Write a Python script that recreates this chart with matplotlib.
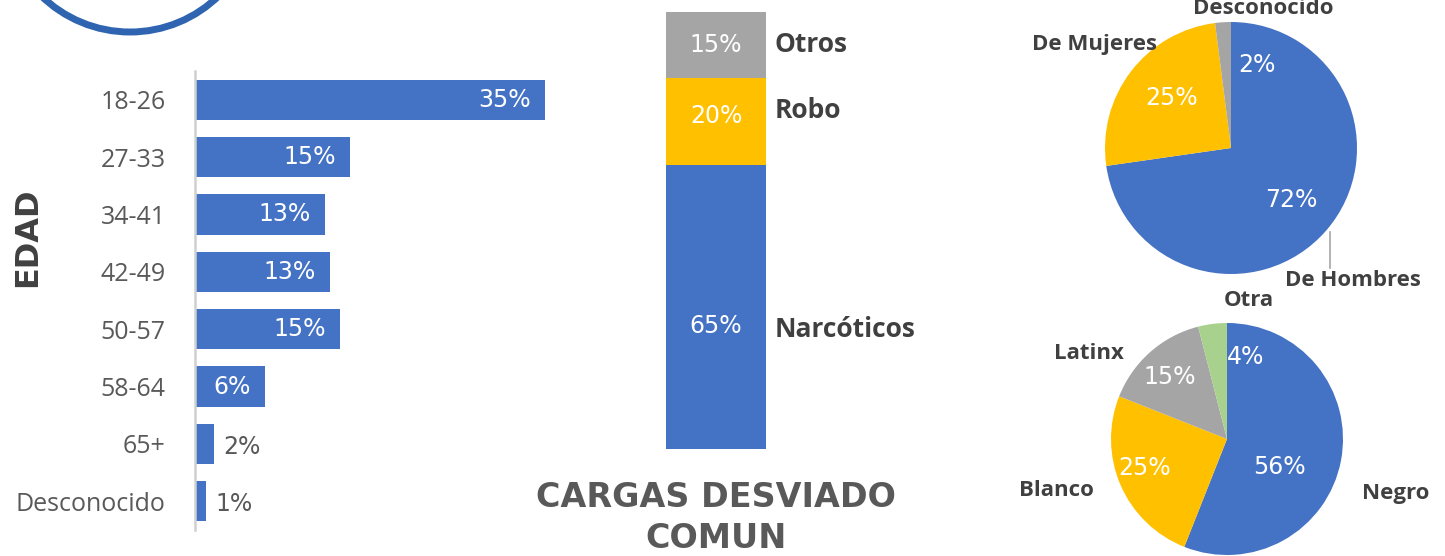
import matplotlib
matplotlib.use("Agg")
import matplotlib.pyplot as plt
from matplotlib.patches import Circle

W, H = 1445, 556

# edad
age_groups = ["18-26", "27-33", "34-41", "42-49", "50-57", "58-64", "65+", "Desconocido"]
age_values = [35, 15.5, 13, 13.5, 14.5, 7, 1.9, 1.1]
age_labels = ["35%", "15%", "13%", "13%", "15%", "6%", "2%", "1%"]

# cargas
charge_types = ["Narcóticos", "Robo", "Otros"]
charge_values = [65, 20, 15]

# genero
gender_names = ["De Hombres", "De Mujeres", "Desconocido"]
gender_values = [72, 25, 2]

# raza
race_names = ["Negro", "Blanco", "Latinx", "Otra"]
race_values = [56, 25, 15, 4]

BLUE = "#4472C4"
YELLOW = "#FFC000"
GRAY = "#A5A5A5"
GREEN = "#A9D18E"
DARK = "#404040"
MID = "#595959"
PCT_FONT = "DejaVu Sans"

plt.rcParams['font.family'] = ['Open Sans', 'DejaVu Sans']

fig = plt.figure(figsize=(W / 100, H / 100), dpi=100)


def px_axes(x0, y0, x1, y1):
    return fig.add_axes([x0 / W, 1 - y1 / H, (x1 - x0) / W, (y1 - y0) / H])


# decorative ring in the corner
deco = px_axes(0, 0, W, H)
deco.set_xlim(0, W)
deco.set_ylim(H, 0)
deco.axis("off")
deco.add_patch(Circle((130, -95), 127, fill=False, ec="#2E64B0", lw=5))

# --- bar chart by age ---
ax = px_axes(195, 71, 595, 530)
ypos = range(len(age_groups))
bars = ax.barh(ypos, age_values, height=0.7, color=BLUE)
ax.set_xlim(0, 40)
ax.set_ylim(len(age_groups) - 0.5, -0.5)
ax.set_yticks(list(ypos))
ax.set_yticklabels(age_groups, fontsize=18, color=MID)
ax.tick_params(axis="y", length=0, pad=21)
ax.set_xticks([])
for s in ["top", "right", "bottom"]:
    ax.spines[s].set_visible(False)
ax.spines["left"].set_color("#D0D0D0")
ax.spines["left"].set_linewidth(1.8)
for b, v, lab in zip(bars, age_values, age_labels):
    yc = b.get_y() + b.get_height() / 2
    if v > 5:
        ax.annotate(lab, (v, yc), xytext=(-10, 0), textcoords="offset points",
                    ha="right", va="center", color="white", fontsize=17, family=PCT_FONT)
    else:
        ax.annotate(lab, (v, yc), xytext=(7, -2), textcoords="offset points",
                    ha="left", va="center", color=MID, fontsize=17, family=PCT_FONT)

fig.text(28 / W, 1 - 237 / H, "EDAD", rotation=90, ha="center", va="center",
         fontsize=23, fontweight="bold", color=DARK, family="DejaVu Sans")

# --- stacked bar of charges ---
ax2 = px_axes(616, 12, 816, 449)
seg_colors = [BLUE, YELLOW, GRAY]
pct_nudge = [-14, 4, 0]
name_nudge = [-16, 8, 0]
bottom = 0
for name, v, c, pn, nn in zip(charge_types, charge_values, seg_colors, pct_nudge, name_nudge):
    ax2.bar(0, v, bottom=bottom, width=1, color=c)
    mid = bottom + v / 2
    ax2.annotate(f"{v}%", (0, mid), xytext=(0, pn), textcoords="offset points",
                 ha="center", va="center", color="white", fontsize=17, family=PCT_FONT)
    ax2.annotate(name, (0.5, mid), xytext=(6, nn), textcoords="offset points",
                 ha="left", va="center", color=DARK, fontsize=19, fontweight="bold")
    bottom += v
ax2.set_xlim(-1, 1)
ax2.set_ylim(0, 100)
ax2.axis("off")

fig.text(716 / W, 1 - 518 / H, "CARGAS DESVIADO\nCOMUN", ha="center", va="center",
         fontsize=24, fontweight="bold", color=MID, linespacing=1.3, family="DejaVu Sans")


# --- pies ---
def draw_pie(axp, values, names, colors, pct_pos, name_pos):
    axp.pie(values, colors=colors, startangle=90, counterclock=False, radius=1)
    axp.set_xlim(-1, 1)
    axp.set_ylim(-1, 1)
    axp.set_aspect("equal")
    for v, (px, py) in zip(values, pct_pos):
        axp.text(px, py, f"{v}%", ha="center", va="center", color="white", fontsize=17,
                 family=PCT_FONT)
    for n, (px, py) in zip(names, name_pos):
        axp.text(px, py, n, ha="center", va="center", color=DARK, fontsize=16,
                 fontweight="bold")


ax3 = px_axes(1105, 22, 1357, 274)
draw_pie(ax3, gender_values, gender_names, [BLUE, YELLOW, GRAY],
         [(0.476, -0.413), (-0.468, 0.397), (0.206, 0.659)],
         [(0.97, -1.05), (-1.08, 0.82), (0.254, 1.11)])
ax3.plot([0.786, 0.786], [-0.667, -0.952], color="#A6A6A6", lw=1.2, clip_on=False)

ax4 = px_axes(1111, 323, 1343, 555)
draw_pie(ax4, race_values, race_names, [BLUE, YELLOW, GRAY, GREEN],
         [(0.448, -0.241), (-0.707, -0.25), (-0.491, 0.534), (0.164, 0.707)],
         [(1.45, -0.466), (-1.474, -0.44), (-1.19, 0.74), (0.19, 1.19)])

fig.savefig("out.png", dpi=100)
